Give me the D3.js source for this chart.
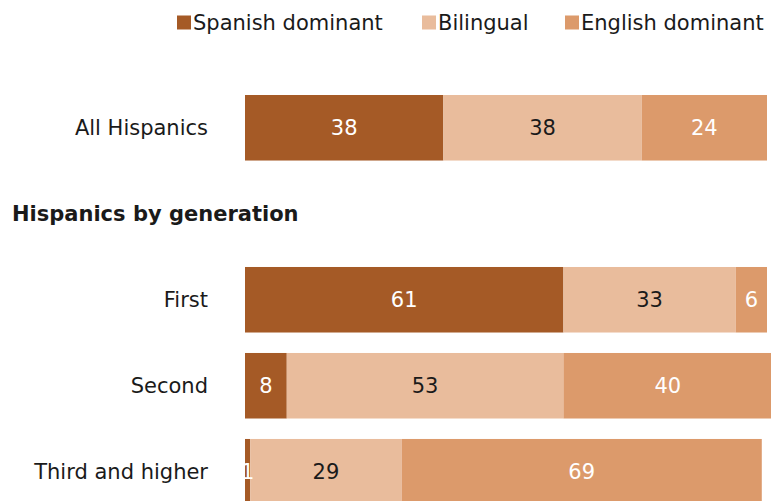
<!DOCTYPE html>
<html>
<head>
<meta charset="utf-8">
<script src="https://cdn.jsdelivr.net/npm/d3@7"></script>
<style>
  body { margin: 0; background: #fff; }
  svg text { font-family: "DejaVu Sans", Verdana, sans-serif; }
</style>
</head>
<body>
<div id="chart"></div>
<script>
var categories = ["All Hispanics", "Hispanics by generation", "First", "Second", "Third and higher"];
var series = ["Spanish dominant", "Bilingual", "English dominant"];
var colors = ["#a55a26", "#e9bc9c", "#dc9a6b"];
var spanish = [38, null, 61, 8, 1];
var bilingual = [38, null, 33, 53, 29];
var english = [24, null, 6, 40, 69];
var headingRow = "Hispanics by generation";

var width = 771, height = 501;
var fontSize = 21;

var svg = d3.select("#chart")
    .append("svg")
    .attr("width", width)
    .attr("height", height);

var x = d3.scaleLinear().domain([0, 100]).range([245, 767]);
var y = d3.scaleBand()
    .domain(categories)
    .range([95, 504.5])
    .paddingInner(0.238)
    .paddingOuter(0);

// stack rows
var rows = [];
for (var i = 0; i < categories.length; i++) {
    if (categories[i] == headingRow) continue;
    var vals = [spanish[i], bilingual[i], english[i]];
    var x0 = 0;
    for (var j = 0; j < vals.length; j++) {
        rows.push({cat: categories[i], s: j, v: vals[j], x0: x0, x1: x0 + vals[j]});
        x0 += vals[j];
    }
}

var gBar = svg.append("g");
var gLabel = svg.append("g");

gBar.selectAll("rect")
    .data(rows)
    .enter()
    .append("rect")
    .attr("x", function(d) { return x(d.x0); })
    .attr("y", function(d) { return y(d.cat); })
    .attr("width", function(d) { return x(d.x1) - x(d.x0); })
    .attr("height", y.bandwidth())
    .attr("fill", function(d) { return colors[d.s]; });

gLabel.selectAll("text")
    .data(rows)
    .enter()
    .append("text")
    .attr("x", function(d) { return (x(d.x0) + x(d.x1)) / 2; })
    .attr("y", function(d) { return y(d.cat) + y.bandwidth() / 2; })
    .attr("dy", "0.36em")
    .attr("text-anchor", "middle")
    .attr("font-size", fontSize)
    .attr("fill", function(d) { return d.s == 1 ? "#1a1a1a" : "#ffffff"; })
    .text(function(d) { return d.v; });

// category labels
svg.append("g").selectAll("text")
    .data(categories.filter(function(c) { return c != headingRow; }))
    .enter()
    .append("text")
    .attr("x", 208)
    .attr("y", function(c) { return y(c) + y.bandwidth() / 2; })
    .attr("dy", "0.36em")
    .attr("text-anchor", "end")
    .attr("font-size", fontSize)
    .attr("fill", "#1a1a1a")
    .text(function(c) { return c; });

svg.append("text")
    .attr("x", 12)
    .attr("y", y(headingRow) + y.bandwidth() / 2)
    .attr("dy", "0.36em")
    .attr("font-size", fontSize)
    .attr("font-weight", "bold")
    .attr("fill", "#1a1a1a")
    .text(headingRow);

// legend
var legendX = [177, 422, 565];
var legend = svg.append("g").selectAll("g")
    .data(series)
    .enter()
    .append("g")
    .attr("transform", function(d, i) { return "translate(" + legendX[i] + ",15.5)"; });
legend.append("rect")
    .attr("width", 14)
    .attr("height", 14)
    .attr("fill", function(d, i) { return colors[i]; });
legend.append("text")
    .attr("x", 16)
    .attr("y", 14)
    .attr("font-size", fontSize)
    .attr("fill", "#1a1a1a")
    .text(function(d) { return d; });
</script>
</body>
</html>
